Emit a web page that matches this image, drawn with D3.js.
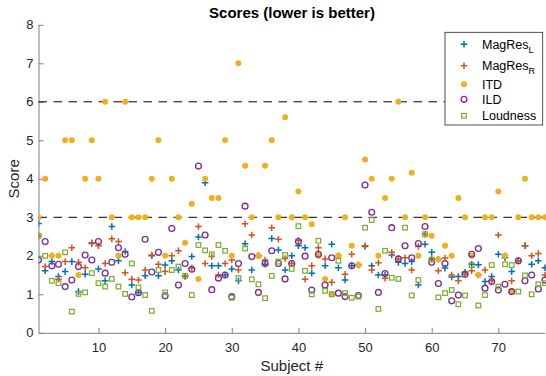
<!DOCTYPE html>
<html>
<head>
<meta charset="utf-8">
<script src="https://cdn.jsdelivr.net/npm/d3@7"></script>
<style>
  body { margin: 0; background: #fff; }
  svg { display: block; font-family: "Liberation Sans", Arial, sans-serif; }
</style>
</head>
<body>
<div id="chart"></div>
<script>
// subject index 1..77
const subjects = d3.range(1, 78);

const magResL = [2.84, 1.61, 1.85, 1.46, 1.59, 1.85, 1.07, 1.52, 2.32, 1.66,
  1.35, 2.76, 1.87, 2.11, 1.24, 1.05, 1.48, 2.00, 1.48, 1.76,
  1.87, 1.63, 1.47, 1.98, 2.49, 3.90, 1.74, 1.74, 1.50, 1.66,
  1.35, 2.31, 1.63, 2.00, 1.78, 2.45, 2.15, 1.63, 2.00, 2.26,
  2.21, 1.55, 2.04, 1.74, 2.30, 1.69, 1.37, 1.74, 1.76, 2.24,
  1.74, 1.50, 1.50, 2.02, 1.83, 1.80, 1.85, 1.24, 2.30, 2.09,
  1.91, 1.68, 1.45, 1.46, 1.57, 1.78, 1.77, 1.33, 1.46, 2.04,
  1.95, 1.59, 1.87, 2.26, 1.78, 1.87, 1.69];

const magResR = [2.52, 1.72, 2.00, 1.39, 1.85, 2.21, 1.83, 1.69, 2.34, 2.26,
  1.80, 2.44, 2.37, 1.56, 1.39, 1.37, 1.63, 2.02, 1.78, 1.59,
  2.00, 2.13, 1.47, 1.68, 2.76, 1.80, 1.98, 1.50, 1.80, 1.89,
  1.63, 2.83, 2.54, 2.00, 1.89, 2.73, 2.43, 1.93, 1.80, 2.40,
  1.39, 1.74, 2.21, 1.92, 1.31, 2.00, 1.52, 2.04, 1.76, 2.26,
  1.63, 1.82, 1.42, 2.09, 1.92, 1.95, 1.63, 2.24, 2.56, 1.92,
  1.61, 1.94, 1.50, 1.35, 1.52, 1.61, 1.50, 1.63, 1.35, 2.54,
  2.00, 1.35, 1.87, 2.26, 2.00, 2.06, 1.50];

const itd = [3, 4, 2, 2, 5, 5, 1.5, 4, 5, 4,
  6, 3, 2, 6, 3, 3, 3, 4, 5, 2,
  4, 3, 2.34, 3.35, 1.4, 4, 3.5, 3.5, 5, 2,
  7, 4.34, 3, 2, 4.34, 5, 3, 5.6, 3, 3.67,
  3, 2.82, 2, 1.4, 1.0, 2, 3, 2.26, 1.76, 4.5,
  4, 2, 3.5, 4, 6, 3, 4.16, 2, 3, 2.52,
  1.91, 2.26, 2, 3.5, 3, 2, 1.5, 3, 3, 3.67,
  2, 1.07, 3, 4, 3, 3, 3];

const ild = [1.89, 2.37, 1.74, 1.78, 1.20, 1.37, 1.72, 2.02, 1.89, 2.37,
  1.55, 1.83, 2.21, 2.04, 0.93, 1.04, 2.43, 1.58, 2.09, 0.96,
  2.71, 1.24, 1.80, 1.65, 4.33, 2.54, 1.12, 1.42, 1.50, 0.94,
  1.80, 3.29, 1.98, 1.05, 1.80, 2.13, 1.80, 1.40, 1.80, 2.37,
  1.99, 1.11, 2.04, 1.24, 1.95, 1.03, 0.94, 1.74, 0.97, 3.84,
  3.13, 1.05, 1.54, 2.73, 1.92, 2.26, 1.95, 2.32, 2.76, 1.83,
  1.28, 1.80, 0.83, 0.98, 1.52, 2.04, 2.19, 1.16, 1.33, 1.11,
  1.26, 1.07, 1.87, 1.35, 1.50, 1.14, 1.37];

const loudness = [2.52, 2.00, 1.35, 1.29, 2.09, 0.55, 1.01, 1.05, 1.55, 1.29,
  1.20, 1.40, 1.20, 1.01, 1.80, 1.18, 0.98, 0.57, 1.63, 1.05,
  1.63, 1.72, 1.48, 0.98, 2.28, 2.14, 2.04, 2.28, 2.13, 0.91,
  1.42, 2.19, 1.39, 1.26, 0.90, 1.48, 1.85, 2.02, 1.66, 2.77,
  1.61, 1.00, 2.39, 1.09, 1.00, 1.87, 1.03, 0.91, 0.94, 2.73,
  2.93, 0.62, 2.13, 1.43, 1.40, 2.73, 0.97, 1.37, 2.56, 1.90,
  0.92, 1.03, 1.11, 0.74, 0.97, 1.76, 0.71, 0.98, 1.76, 1.20,
  1.78, 1.76, 1.07, 1.49, 1.00, 1.26, 1.29];

const thresholds = [3, 6];
const xTicks = [10, 20, 30, 40, 50, 60, 70];
const yTicks = [0, 1, 2, 3, 4, 5, 6, 7, 8];

const width = 546, height = 376;
const plotLeft = 38.5, plotRight = 545, plotTop = 24.8, plotBottom = 332.8;

const svg = d3.select('#chart')
  .append('svg')
  .attr('width', width)
  .attr('height', height);

const x = d3.scaleLinear().domain([1, 77]).range([plotLeft, plotRight]);
const y = d3.scaleLinear().domain([0, 8]).range([plotBottom, plotTop]);

// clip markers at the y axis
svg.append('clipPath').attr('id', 'plot-clip')
  .append('rect')
  .attr('x', plotLeft).attr('y', 0)
  .attr('width', width - plotLeft).attr('height', plotBottom);

// axes (ticks point inward, no box)
const yAxis = svg.append('g')
  .attr('transform', `translate(${plotLeft},0)`)
  .call(d3.axisLeft(y).tickValues(yTicks).tickSizeInner(-5).tickSizeOuter(0).tickPadding(5));

const xAxis = svg.append('g')
  .attr('transform', `translate(0,${plotBottom})`)
  .call(d3.axisBottom(x).tickValues(xTicks).tickSizeInner(-5).tickSizeOuter(0).tickPadding(10));

[xAxis, yAxis].forEach(a => {
  a.select('.domain').attr('stroke', '#808080').attr('stroke-width', 1);
  a.selectAll('.tick line').attr('stroke', '#808080');
  a.selectAll('.tick text')
    .attr('fill', '#262626')
    .style('font-size', '13px')
    .style('font-family', '"Liberation Sans", Arial, sans-serif');
});

// dashed reference lines
svg.append('g')
  .selectAll('line')
  .data(thresholds)
  .enter()
  .append('line')
  .attr('x1', plotLeft)
  .attr('x2', plotRight)
  .attr('y1', d => y(d))
  .attr('y2', d => y(d))
  .attr('stroke', '#000')
  .attr('stroke-width', 1)
  .attr('stroke-dasharray', '8.5,6.5');

const plusPath = 'M-3.3,0H3.3M0,-3.3V3.3';

const series = [
  { name: 'MagRes', sub: 'L', values: magResL, color: '#0072BD', shape: 'plus' },
  { name: 'MagRes', sub: 'R', values: magResR, color: '#D95319', shape: 'plus' },
  { name: 'ITD', sub: '', values: itd, color: '#EDB120', shape: 'dot' },
  { name: 'ILD', sub: '', values: ild, color: '#7E2F8E', shape: 'circle' },
  { name: 'Loudness', sub: '', values: loudness, color: '#77AC30', shape: 'square' }
];

function drawMarker(sel, s) {
  if (s.shape === 'plus') {
    sel.append('path').attr('d', plusPath)
      .attr('stroke', s.color).attr('stroke-width', 1.5).attr('fill', 'none');
  } else if (s.shape === 'dot') {
    sel.append('circle').attr('r', 3.0).attr('fill', s.color);
  } else if (s.shape === 'circle') {
    sel.append('circle').attr('r', 2.9)
      .attr('fill', 'none').attr('stroke', s.color).attr('stroke-width', 1.35);
  } else {
    sel.append('rect').attr('x', -2.3).attr('y', -2.3).attr('width', 4.6).attr('height', 4.6)
      .attr('fill', 'none').attr('stroke', s.color).attr('stroke-width', 1.2);
  }
}

const plot = svg.append('g').attr('clip-path', 'url(#plot-clip)');

series.forEach(s => {
  plot.append('g')
    .selectAll('g')
    .data(subjects)
    .enter()
    .append('g')
    .attr('transform', (d, i) => `translate(${x(d)},${y(s.values[i])})`)
    .each(function () { drawMarker(d3.select(this), s); });
});

// title and axis labels
svg.append('text')
  .attr('x', 292).attr('y', 17.5)
  .attr('text-anchor', 'middle')
  .style('font-size', '15px')
  .style('font-weight', 'bold')
  .attr('fill', '#000')
  .text('Scores (lower is better)');

svg.append('text')
  .attr('x', (plotLeft + plotRight) / 2).attr('y', 370.5)
  .attr('text-anchor', 'middle')
  .style('font-size', '15px')
  .attr('fill', '#262626')
  .text('Subject #');

svg.append('text')
  .attr('transform', `translate(19,${(plotTop + plotBottom) / 2}) rotate(-90)`)
  .attr('text-anchor', 'middle')
  .style('font-size', '15px')
  .attr('fill', '#262626')
  .text('Score');

// legend
const legend = svg.append('g');
legend.append('rect')
  .attr('x', 445).attr('y', 32.3)
  .attr('width', 97.7).attr('height', 92.7)
  .attr('fill', '#fff')
  .attr('stroke', '#262626')
  .attr('stroke-width', 0.8);

const legendY = [44.3, 65.7, 84.3, 99.3, 115.7];
series.forEach((s, i) => {
  const row = legend.append('g').attr('transform', `translate(464,${legendY[i]})`);
  drawMarker(row, s);
  const t = legend.append('text')
    .attr('x', 482).attr('y', legendY[i] + 4.5)
    .style('font-size', '12.5px')
    .attr('fill', '#000')
    .text(s.name);
  if (s.sub) {
    t.append('tspan')
      .attr('dy', 4)
      .style('font-size', '9px')
      .text(s.sub);
  }
});
</script>
</body>
</html>
